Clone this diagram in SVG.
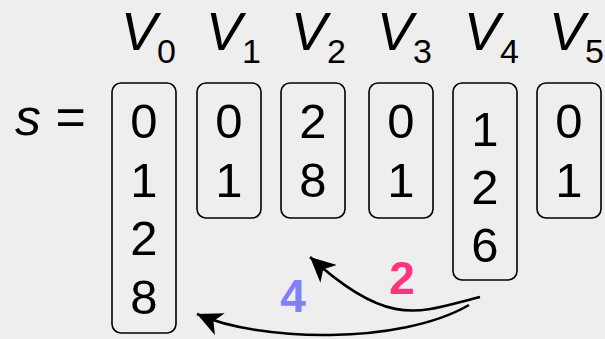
<svg xmlns="http://www.w3.org/2000/svg" width="605" height="339" viewBox="0 0 605 339">
<style>
.bg{fill:#eeeeee}
.box{fill:none;stroke:#000;stroke-width:1.6}
.d{font-family:"Liberation Sans",Arial,sans-serif;font-size:49px;fill:#000;text-anchor:middle}
.v{font-family:"Liberation Sans",Arial,sans-serif;font-size:54px;font-style:italic;fill:#000}
.sub{font-size:34px;font-style:normal}
.s{font-family:"Liberation Sans",Arial,sans-serif;font-size:52px;fill:#000}
.lbl{font-family:"Liberation Sans",Arial,sans-serif;font-size:46px;font-weight:bold;text-anchor:middle}
.edge{fill:none;stroke:#000;stroke-width:2.6}
</style>
<defs>
<marker id="ah" viewBox="0 0 26 24" refX="25" refY="12" markerWidth="26" markerHeight="24" markerUnits="userSpaceOnUse" orient="auto">
<path d="M25,12 L0,0 L7,12 L0,24 Z" fill="#000"/>
</marker>
</defs>
<rect class="bg" x="0" y="0" width="605" height="339"/>
<g id="s-label">
<text class="s" x="15" y="135"><tspan font-style="italic">s</tspan> =</text>
</g>
<g id="V0">
<text class="v" x="121" y="50">V<tspan class="sub" dy="13">0</tspan></text>
<rect class="box" x="112" y="83" width="64" height="250" rx="9"/>
<text class="d" x="144" y="138">0</text>
<text class="d" x="144" y="197">1</text>
<text class="d" x="144" y="255">2</text>
<text class="d" x="144" y="314">8</text>
</g>
<g id="V1">
<text class="v" x="206" y="50">V<tspan class="sub" dy="13">1</tspan></text>
<rect class="box" x="197" y="83" width="64" height="135" rx="9"/>
<text class="d" x="229" y="138">0</text>
<text class="d" x="229" y="197">1</text>
</g>
<g id="V2">
<text class="v" x="291" y="50">V<tspan class="sub" dy="13">2</tspan></text>
<rect class="box" x="281" y="83" width="64" height="135" rx="9"/>
<text class="d" x="313" y="138">2</text>
<text class="d" x="313" y="197">8</text>
</g>
<g id="V3">
<text class="v" x="377" y="50">V<tspan class="sub" dy="13">3</tspan></text>
<rect class="box" x="369" y="83" width="64" height="135" rx="9"/>
<text class="d" x="401" y="138">0</text>
<text class="d" x="401" y="197">1</text>
</g>
<g id="V4">
<text class="v" x="464" y="50">V<tspan class="sub" dy="13">4</tspan></text>
<rect class="box" x="453" y="83" width="64" height="197" rx="9"/>
<text class="d" x="485" y="146">1</text>
<text class="d" x="485" y="204">2</text>
<text class="d" x="485" y="262">6</text>
</g>
<g id="V5">
<text class="v" x="549" y="50">V<tspan class="sub" dy="13">5</tspan></text>
<rect class="box" x="537" y="83" width="64" height="135" rx="9"/>
<text class="d" x="569" y="138">0</text>
<text class="d" x="569" y="197">1</text>
</g>
<g id="connectors">
<path class="edge" d="M480,297 C420,312 390,330 310,257" marker-end="url(#ah)"/>
<path class="edge" d="M469,305 C400,345 260,342 197,314" marker-end="url(#ah)"/>
<text class="lbl" x="402" y="294" fill="#ff3380">2</text>
<text class="lbl" x="293" y="312" fill="#8080ff">4</text>
</g>
</svg>
